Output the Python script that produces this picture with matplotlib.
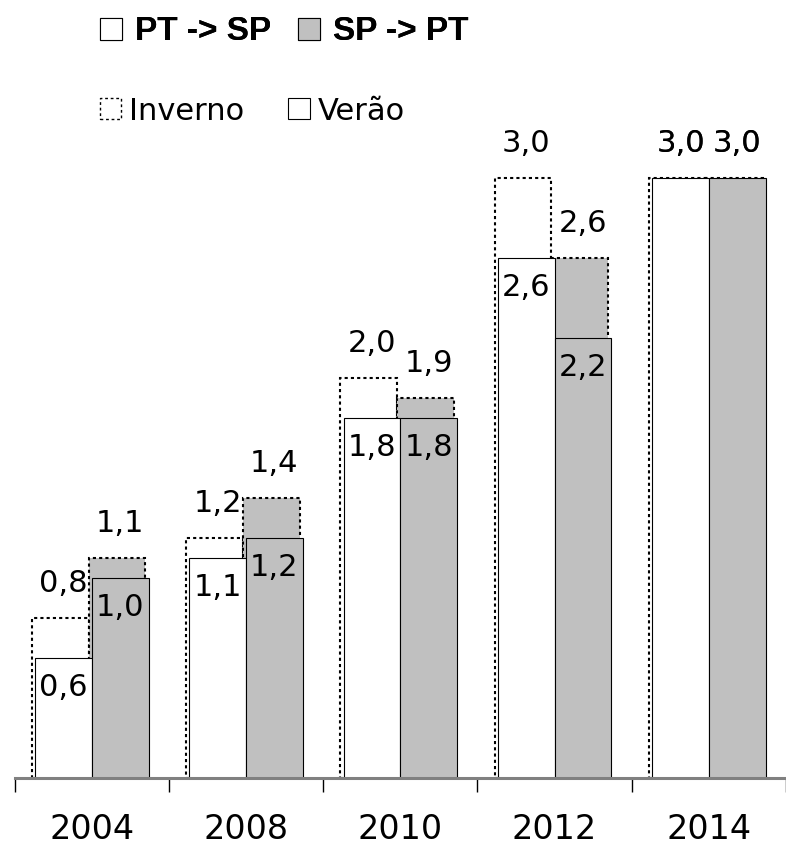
import numpy as np
import matplotlib
matplotlib.use('Agg')
import matplotlib.pyplot as plt
from matplotlib.patches import Patch

# dados (valores do gráfico)
anos = ['2004', '2008', '2010', '2012', '2014']
pt_sp_inverno = [0.8, 1.2, 2.0, 3.0, 3.0]
pt_sp_verao = [0.6, 1.1, 1.8, 2.6, 3.0]
sp_pt_inverno = [1.1, 1.4, 1.9, 2.6, 3.0]
sp_pt_verao = [1.0, 1.2, 1.8, 2.2, 3.0]

cinza = '#c0c0c0'
plt.rcParams['font.family'] = ['DejaVu Sans']

fig = plt.figure(figsize=(7.86, 8.46), dpi=100)
ax = fig.add_axes([14.6 / 786, 68 / 846, 771.4 / 786, 700 / 846])

x = np.arange(len(anos))
w = 0.368
desl = -0.02  # barras de inverno ligeiramente deslocadas

# inverno (contorno pontilhado)
ax.bar(x - w / 2 + desl, pt_sp_inverno, w, color='white', edgecolor='black',
       linewidth=1.5, linestyle=(0, (1.5, 1.5)), zorder=1)
ax.bar(x + w / 2 + desl, sp_pt_inverno, w, color=cinza, edgecolor='black',
       linewidth=1.5, linestyle=(0, (1.5, 1.5)), zorder=1)
# verão (contorno contínuo)
ax.bar(x - w / 2, pt_sp_verao, w, color='white', edgecolor='black',
       linewidth=0.8, zorder=2)
ax.bar(x + w / 2, sp_pt_verao, w, color=cinza, edgecolor='black',
       linewidth=0.8, zorder=2)

def fmt(v):
    return ('%.1f' % v).replace('.', ',')

for inv, ver, xs in [(pt_sp_inverno, pt_sp_verao, x - w / 2),
                     (sp_pt_inverno, sp_pt_verao, x + w / 2)]:
    for xi, vi, vv in zip(xs, inv, ver):
        ax.annotate(fmt(vi), (xi, vi), xytext=(0, 24.5), textcoords='offset points',
                    ha='center', va='center', fontsize=22, zorder=5)
        off = 24.5 if vv == vi else -21.5
        ax.annotate(fmt(vv), (xi, vv), xytext=(0, off), textcoords='offset points',
                    ha='center', va='center', fontsize=22, zorder=5)

ax.set_xlim(-0.5, (786 - 92) / 154.75)
ax.set_ylim(0, 3.5)
ax.set_yticks([])
for s in ['left', 'right', 'top']:
    ax.spines[s].set_visible(False)
ax.spines['bottom'].set_color('#808080')
ax.spines['bottom'].set_linewidth(2.2)
ax.spines['bottom'].set_zorder(3)

ax.set_xticks(x)
ax.set_xticklabels(anos, fontsize=24)
ax.set_xticks(np.arange(-0.5, len(anos), 1), minor=True)
ax.tick_params(axis='x', which='major', length=0, pad=25)
ax.tick_params(axis='x', which='minor', length=10, width=1, color='black', direction='out')

# legendas
leg1 = fig.legend(handles=[Patch(facecolor='white', edgecolor='black', linewidth=0.8),
                           Patch(facecolor=cinza, edgecolor='black', linewidth=0.8)],
                  labels=['PT -> SP', 'SP -> PT'], loc='center left',
                  bbox_to_anchor=(100 / 786, 1 - 32 / 846), ncol=2, frameon=False,
                  prop={'family': 'Liberation Sans', 'weight': 'bold', 'size': 24},
                  handlelength=0.66, handleheight=0.66, handletextpad=0.4,
                  columnspacing=0.8, borderpad=0, borderaxespad=0)
fig.add_artist(leg1)
leg2 = fig.legend(handles=[Patch(facecolor='white', edgecolor='black', linewidth=1.0,
                                 linestyle=(0, (2, 2))),
                           Patch(facecolor='white', edgecolor='black', linewidth=0.8)],
                  labels=['Inverno', 'Verão'], loc='center left',
                  bbox_to_anchor=(100 / 786, 1 - 111 / 846), ncol=2, frameon=False,
                  prop={'family': 'DejaVu Sans', 'size': 22},
                  handlelength=0.7, handleheight=0.7, handletextpad=0.25,
                  columnspacing=1.45, borderpad=0, borderaxespad=0)

fig.savefig('out.png', dpi=100)
